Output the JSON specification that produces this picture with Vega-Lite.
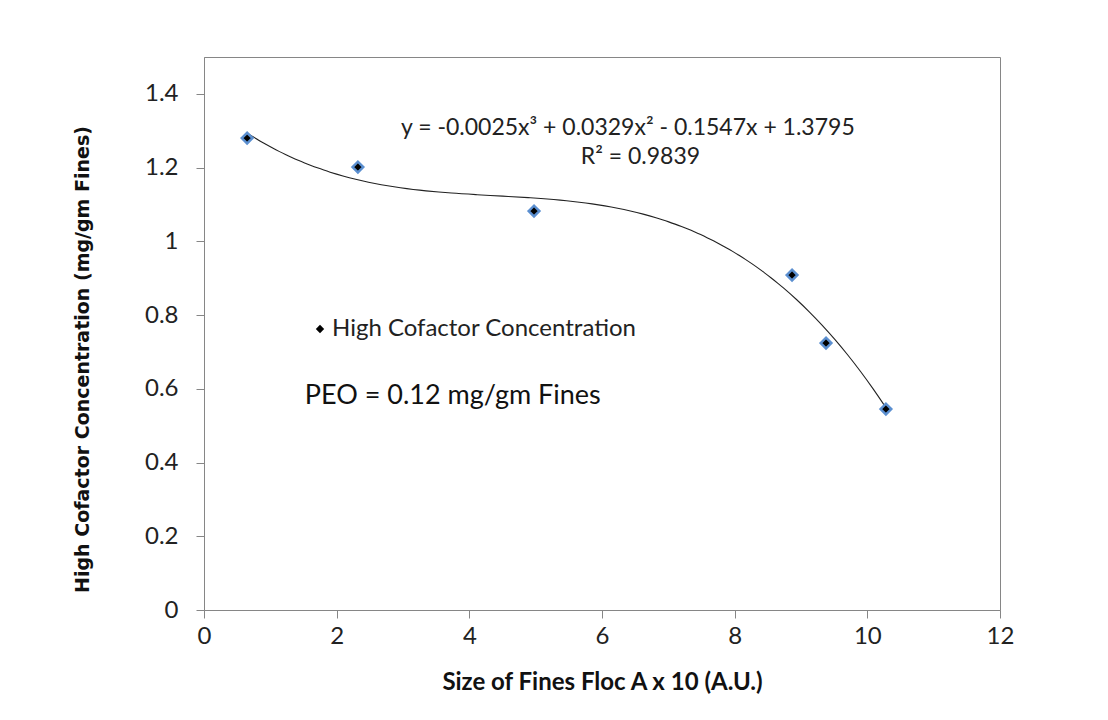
{
  "$schema": "https://vega.github.io/schema/vega-lite/v6.json",
  "autosize": {"type": "none"},
  "width": 796,
  "height": 553,
  "padding": {"left": 204, "top": 57, "right": 108, "bottom": 110},
  "background": "white",
  "config": {
    "view": {"stroke": "#868686", "strokeWidth": 1},
    "axis": {
      "grid": false,
      "domainColor": "#868686",
      "tickColor": "#868686",
      "tickSize": 8,
      "labelFont": "Lato",
      "labelFontSize": 24,
      "labelColor": "#222222",
      "titleColor": "#111111"
    }
  },
  "datasets": {
    "points": [
      {"size": 0.65, "conc": 1.280, "series": "High Cofactor Concentration"},
      {"size": 2.32, "conc": 1.2015, "series": "High Cofactor Concentration"},
      {"size": 4.975, "conc": 1.082, "series": "High Cofactor Concentration"},
      {"size": 8.865, "conc": 0.9086, "series": "High Cofactor Concentration"},
      {"size": 9.377, "conc": 0.724, "series": "High Cofactor Concentration"},
      {"size": 10.28, "conc": 0.545, "series": "High Cofactor Concentration"}
    ],
    "notes": [
      {"size": 6.39, "conc": 1.307, "label": "y = -0.0025x³ + 0.0329x² - 0.1547x + 1.3795"},
      {"size": 6.58, "conc": 1.229, "label": "R² = 0.9839"}
    ],
    "peo": [
      {"size": 1.52, "conc": 0.58, "label": "PEO = 0.12 mg/gm Fines"}
    ]
  },
  "encoding": {
    "x": {
      "field": "size",
      "type": "quantitative",
      "scale": {"domain": [0, 12], "nice": false, "zero": false},
      "axis": {
        "values": [0, 2, 4, 6, 8, 10, 12],
        "title": "Size of Fines Floc A x 10 (A.U.)",
        "titleFont": "Lato",
        "titleFontSize": 24,
        "titleFontWeight": "bold",
        "titlePadding": 22,
        "labelPadding": 6,
        "labelFlush": false
      }
    },
    "y": {
      "field": "conc",
      "type": "quantitative",
      "scale": {"domain": [0, 1.5], "nice": false},
      "axis": {
        "values": [0, 0.2, 0.4, 0.6, 0.8, 1, 1.2, 1.4],
        "format": "~g",
        "title": "High Cofactor Concentration (mg/gm Fines)",
        "titleFont": "DejaVu Sans",
        "titleFontSize": 19,
        "titleFontWeight": "bold",
        "titlePadding": 52,
        "titleY": 302,
        "labelPadding": 18
      }
    }
  },
  "layer": [
    {
      "data": {"name": "points"},
      "transform": [
        {"regression": "conc", "on": "size", "method": "poly", "order": 3, "extent": [0.65, 10.28]}
      ],
      "mark": {"type": "line", "color": "#222222", "strokeWidth": 1.1, "interpolate": "monotone"},
      "encoding": {}
    },
    {
      "data": {"name": "points"},
      "mark": {"type": "point", "shape": "diamond", "filled": true, "size": 115, "stroke": "#5b8fd0", "strokeWidth": 2.5, "opacity": 1},
      "encoding": {
        "color": {
          "field": "series",
          "type": "nominal",
          "scale": {"range": ["#000000"]},
          "legend": {
            "title": null,
            "orient": "none",
            "legendX": 104,
            "legendY": 260,
            "labelFont": "Lato",
            "labelFontSize": 24,
            "labelColor": "#222222",
            "labelLimit": 600,
            "symbolSize": 70,
            "symbolStrokeWidth": 0,
            "labelOffset": 0
          }
        }
      }
    },
    {
      "data": {"name": "notes"},
      "mark": {"type": "text", "font": "Lato", "fontSize": 23, "color": "#222222", "align": "center", "baseline": "middle"},
      "encoding": {"text": {"field": "label"}}
    },
    {
      "data": {"name": "peo"},
      "mark": {"type": "text", "font": "Lato", "fontSize": 27, "color": "#111111", "align": "left", "baseline": "middle"},
      "encoding": {"text": {"field": "label"}}
    }
  ]
}
